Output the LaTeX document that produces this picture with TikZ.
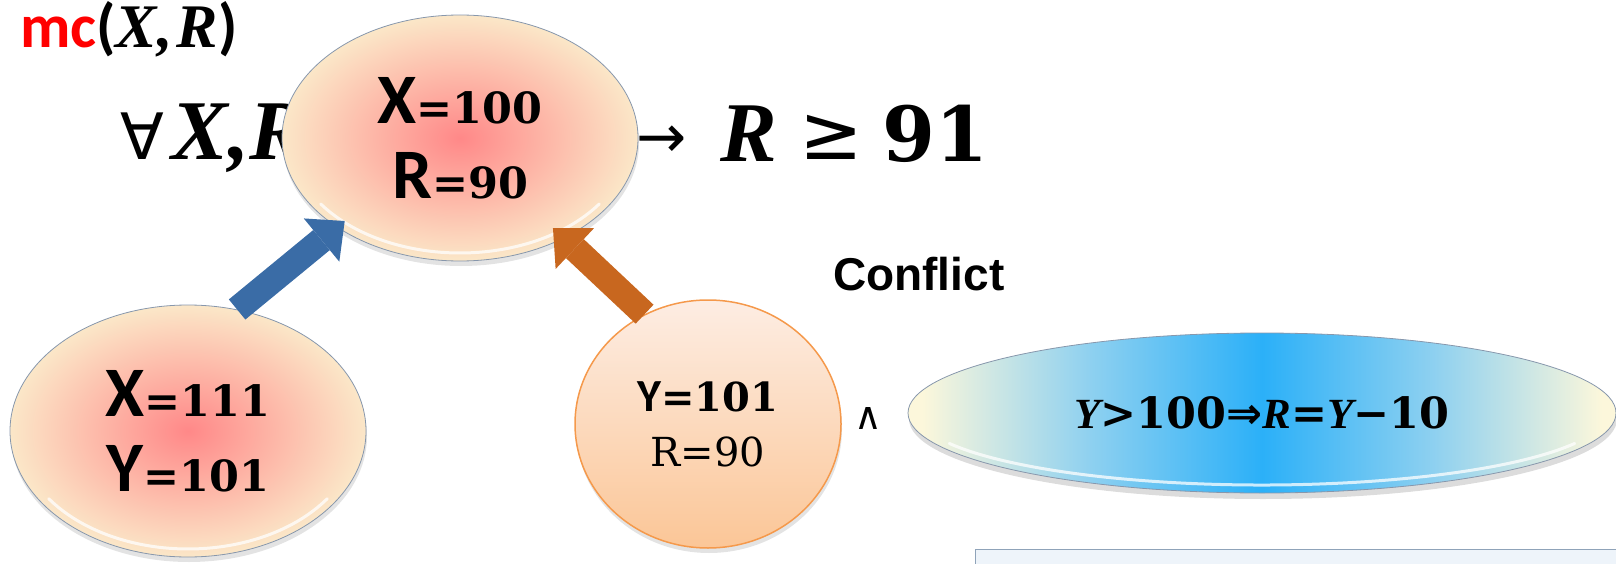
\documentclass[tikz,border=0pt]{standalone}
\usepackage{fontspec}
\setsansfont{Carlito}
\newfontfamily\arialfont{Liberation Sans}
\newfontfamily\timesfont{Liberation Serif}
\newfontfamily\numfont{DejaVu Serif}
\newfontfamily\symfont{DejaVu Sans}
\usepackage{tikz}
\usetikzlibrary{arrows.meta,shadows,shapes.geometric}

\definecolor{pinkc}{HTML}{FF8888}
\definecolor{creamc}{HTML}{FBE7C8}
\definecolor{rimc}{HTML}{8797AC}
\definecolor{peachtop}{HTML}{FDEDE3}
\definecolor{peachbot}{HTML}{FBC697}
\definecolor{peachrim}{HTML}{F5994B}
\definecolor{skyc}{HTML}{2BB0F8}
\definecolor{skymid}{HTML}{8DD0F0}
\definecolor{skyend}{HTML}{FCF7DB}
\definecolor{arrblue}{HTML}{3A6CA6}
\definecolor{arrorange}{HTML}{C8671F}
\definecolor{panelc}{HTML}{EEF4FA}
\definecolor{panelrim}{HTML}{8FA3B9}

\pgfdeclarehorizontalshading{skyband}{100bp}{color(0bp)=(skyend); color(26bp)=(skyend);
  color(38bp)=(skymid); color(50bp)=(skyc); color(62bp)=(skymid); color(74bp)=(skyend); color(100bp)=(skyend)}

\newcommand\varbi[1]{{\timesfont\bfseries\itshape #1}}
\newcommand\numbf[1]{{\numfont\bfseries #1}}
\newcommand\pinkline[2]{{\sffamily\bfseries\fontsize{71}{75}\selectfont #1}{\fontsize{43}{43}\selectfont\numbf{=#2}}}

\begin{document}
\begin{tikzpicture}[x=1pt,y=-1pt]
  \tikzstyle{pinkball}=[ellipse,draw=rimc,line width=0.8pt,inner color=pinkc,outer color=creamc,inner sep=0pt,
    align=center,font=\fontsize{71}{75}\selectfont,drop shadow={opacity=0.22,shadow xshift=1pt,shadow yshift=-5pt}]
  \tikzstyle{peachball}=[ellipse,draw=peachrim,line width=1.5pt,top color=peachtop,bottom color=peachbot,inner sep=0pt,
    align=center,font=\fontsize{40}{55}\selectfont,drop shadow={opacity=0.22,shadow xshift=1pt,shadow yshift=-5pt}]
  \tikzstyle{skyoval}=[ellipse,draw=rimc,line width=0.8pt,shading=skyband,inner sep=0pt,
    drop shadow={opacity=0.28,shadow xshift=1pt,shadow yshift=-6pt}]
  \tikzstyle{gloss}=[white,line width=3pt,opacity=0.75,line cap=round]
  \tikzstyle{blockarrow}=[line width=26pt,-{Triangle[length=30pt,width=56pt,line width=0pt]}]
  \useasboundingbox (0,0) rectangle (1616,564);
  \node[anchor=base west,inner sep=0pt] (mc) at (20,48) {\fontsize{62}{62}\selectfont{\sffamily\bfseries{\color{red}mc}(}\varbi{X,}\hspace{4pt}\varbi{R}{\sffamily\bfseries)}};
  \node[anchor=base west,inner sep=0pt] (forall) at (120,160) {{\fontsize{64}{64}\selectfont\symfont ∀}\hspace{8pt}{\fontsize{85}{85}\selectfont\varbi{X,R}}};
  \node[anchor=base west,inner sep=0pt] (bound) at (636,162) {\raisebox{4pt}{\fontsize{60}{60}\selectfont\symfont →}\hspace{34pt}{\fontsize{85}{85}\selectfont\varbi{R}}\hspace{22pt}\raisebox{2pt}{\fontsize{76}{76}\selectfont\symfont ≥}\hspace{20pt}{\fontsize{76}{76}\selectfont\numbf{91}}};
  \node[pinkball,minimum width=356pt,minimum height=246pt] (xr) at (460,138) {\pinkline{X}{100}\\\pinkline{R}{90}};
  \node[pinkball,minimum width=356pt,minimum height=252pt] (xy) at (188,431) {\pinkline{X}{111}\\\pinkline{Y}{101}};
  \node[peachball,minimum width=266pt,minimum height=248pt] (yr) at (708,424) {{\sffamily\bfseries\fontsize{46}{55}\selectfont Y}\numbf{=101}\\{\numfont R=90}};
  \node[skyoval,minimum width=708pt,minimum height=160pt] (cond) at (1262,413) {\fontsize{43}{43}\selectfont\varbi{Y}\numbf{>100}{\symfont\bfseries ⇒}\varbi{R}\numbf{=}\varbi{Y}\numbf{−10}};
  \draw[gloss] (xr.center) ++(35:170 and 115) arc[start angle=35,end angle=145,x radius=170,y radius=115];
  \draw[gloss] (xy.center) ++(35:170 and 118) arc[start angle=35,end angle=145,x radius=170,y radius=118];
  \draw[gloss] (cond.center) ++(25:345 and 72) arc[start angle=25,end angle=155,x radius=345,y radius=72];
  \node (andop) at (868,418) {\fontsize{38}{38}\selectfont\symfont ∧};
  \node[anchor=base west,inner sep=0pt] (conflict) at (833,290) {\arialfont\bfseries\fontsize{46}{46}\selectfont Conflict};
  \draw[blockarrow,arrblue,shorten >=-10pt] (xy.68) -- (xr.216);
  \draw[blockarrow,arrorange,shorten >=-15pt] (yr.120) -- (xr.-44);
  \draw[panelrim,fill=panelc,line width=1pt] (975,549) rectangle (1630,580);
\end{tikzpicture}
\end{document}
